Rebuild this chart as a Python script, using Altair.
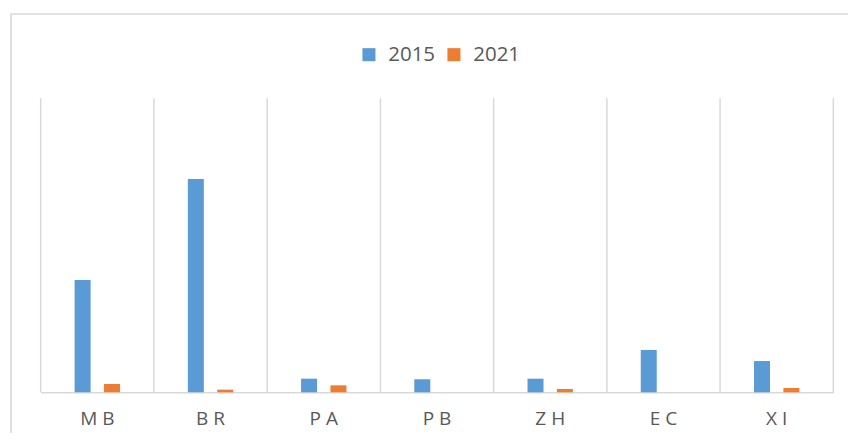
import altair as alt
import pandas as pd

categories = ["MB", "BR", "PA", "PB", "ZH", "EC", "XI"]
years = ["2015", "2021"]
values_2015 = [114.6, 217.7, 13.9, 13.3, 13.9, 43.2, 31.9]
values_2021 = [8.5, 2.7, 7.1, 0, 3.4, 0, 4.4]

rows = []
for c, a, b in zip(categories, values_2015, values_2021):
    rows.append({"cat": c, "year": years[0], "value": a})
    rows.append({"cat": c, "year": years[1], "value": b})
df = pd.DataFrame(rows)
grid_df = pd.DataFrame({"cat": categories})

W = 792.6
H = 294
FONT = "Open Sans"
GRAY = "#d9d9d9"
TEXT = "#595959"

x_scale = alt.Scale(domain=categories, paddingInner=0, paddingOuter=0)
x_axis = alt.Axis(labelExpr="join(split(datum.label, ''), ' ')",
                  labelAngle=0, labelFontSize=19, labelColor=TEXT,
                  labelFont=FONT, labelPadding=17, ticks=False,
                  grid=False, domainColor=GRAY, domainWidth=1.6)

border = alt.Chart(grid_df.head(1)).mark_rect(
    fill=None, stroke=GRAY, strokeWidth=1.6
).encode(
    x=alt.value(-29.7), x2=alt.value(W + 60),
    y=alt.value(-84.3), y2=alt.value(H + 80),
)

bars = alt.Chart(df).mark_bar(width=16).encode(
    x=alt.X("cat:N", scale=x_scale, sort=categories, title=None, axis=x_axis),
    xOffset=alt.XOffset("year:N", scale=alt.Scale(paddingInner=0.15, paddingOuter=1)),
    y=alt.Y("value:Q", scale=alt.Scale(domain=[0, 300], nice=False), axis=None),
    color=alt.Color("year:N",
                    scale=alt.Scale(domain=years, range=["#5b9bd5", "#ed7d31"]),
                    legend=alt.Legend(title=None, orient="none", direction="horizontal",
                                      legendX=318, legendY=-54,
                                      symbolType="square", symbolSize=170,
                                      symbolStrokeWidth=0, labelFontSize=20.5,
                                      labelFont=FONT, labelColor=TEXT,
                                      labelOffset=9, columnPadding=8, padding=0)),
)

grid = alt.Chart(grid_df).mark_rule(color=GRAY, strokeWidth=1.5).encode(
    x=alt.X("cat:N", bandPosition=0, scale=x_scale, sort=categories, title=None, axis=x_axis),
    y=alt.value(0), y2=alt.value(H),
)
right_rule = alt.Chart(grid_df.head(1)).mark_rule(color=GRAY, strokeWidth=1.5).encode(
    x=alt.value(W), y=alt.value(0), y2=alt.value(H),
)

chart = alt.layer(border, grid, right_rule, bars).properties(
    width=W, height=H,
    autosize=alt.AutoSizeParams(type="none"),
    padding={"left": 32.7, "top": 90.3, "right": 14.7, "bottom": 40.7},
).configure_view(stroke=None)

chart.save("out.html", embed_options={"renderer": "svg", "actions": False})
